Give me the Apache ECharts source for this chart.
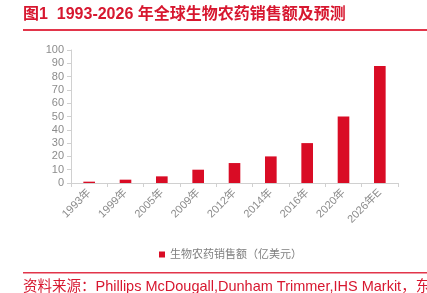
<!DOCTYPE html>
<html><head><meta charset="utf-8">
<script src="https://cdn.jsdelivr.net/npm/echarts@6/dist/echarts.min.js"></script>
<style>html,body{margin:0;padding:0;background:#fff}#c{width:427px;height:293px}</style>
</head><body><div id="c"></div>
<script>
const categories = ['1993年','1999年','2005年','2009年','2012年','2014年','2016年','2020年','2026年E'];
const salesValues = [1, 2.5, 5, 10, 15, 20, 30, 50, 88];
const yTicks = [0,10,20,30,40,50,60,70,80,90,100];
const seriesName = '生物农药销售额（亿美元）';
const titleText = '图1  1993-2026 年全球生物农药销售额及预测';
const sourceText = '资料来源：Phillips McDougall,Dunham Trimmer,IHS Markit，东方证券研究所';

const chart = echarts.init(document.getElementById('c'));
const font = '"Liberation Sans", "Noto Sans CJK SC", sans-serif';
chart.setOption({
  animation: false,
  textStyle: {fontFamily: font},
  grid: {left: 71, right: 29, top: 50, bottom: 110, containLabel: false},
  legend: {
    data: [seriesName], top: 244, left: 154,
    icon: 'rect', itemWidth: 6, itemHeight: 6, itemGap: 3,
    textStyle: {color: '#7f7f7f', fontSize: 11, fontFamily: font}
  },
  xAxis: {
    type: 'category', data: categories,
    axisLine: {lineStyle: {color: '#d0d0d0', width: 1}},
    axisTick: {show: true, alignWithLabel: false, length: 4, lineStyle: {color: '#d0d0d0'}},
    axisLabel: {rotate: 45, color: '#8c8c8c', fontSize: 11, margin: 8, interval: 0}
  },
  yAxis: {
    type: 'value', min: yTicks[0], max: yTicks[yTicks.length-1], interval: 10,
    axisLine: {show: true, lineStyle: {color: '#d0d0d0'}},
    axisTick: {show: true, length: 4, lineStyle: {color: '#d0d0d0'}},
    splitLine: {show: false},
    axisLabel: {color: '#8c8c8c', fontSize: 11, margin: 7}
  },
  series: [{
    name: seriesName, type: 'bar', data: salesValues, barWidth: '32%',
    itemStyle: {color: '#d90c25'}
  }],
  graphic: [
    {type: 'text', left: 23, top: 7, style: {text: titleText, fill: '#d7172f', font: 'bold 16px ' + font}},
    {type: 'rect', shape: {x: 23, y: 29, width: 404, height: 2}, style: {fill: '#e2354a'}},
    {type: 'rect', shape: {x: 23, y: 272, width: 404, height: 1.5}, style: {fill: '#e2354a'}},
    {type: 'text', left: 23, top: 280, style: {text: sourceText, fill: '#d7172f', font: '14.5px ' + font}}
  ]
});
</script></body></html>
